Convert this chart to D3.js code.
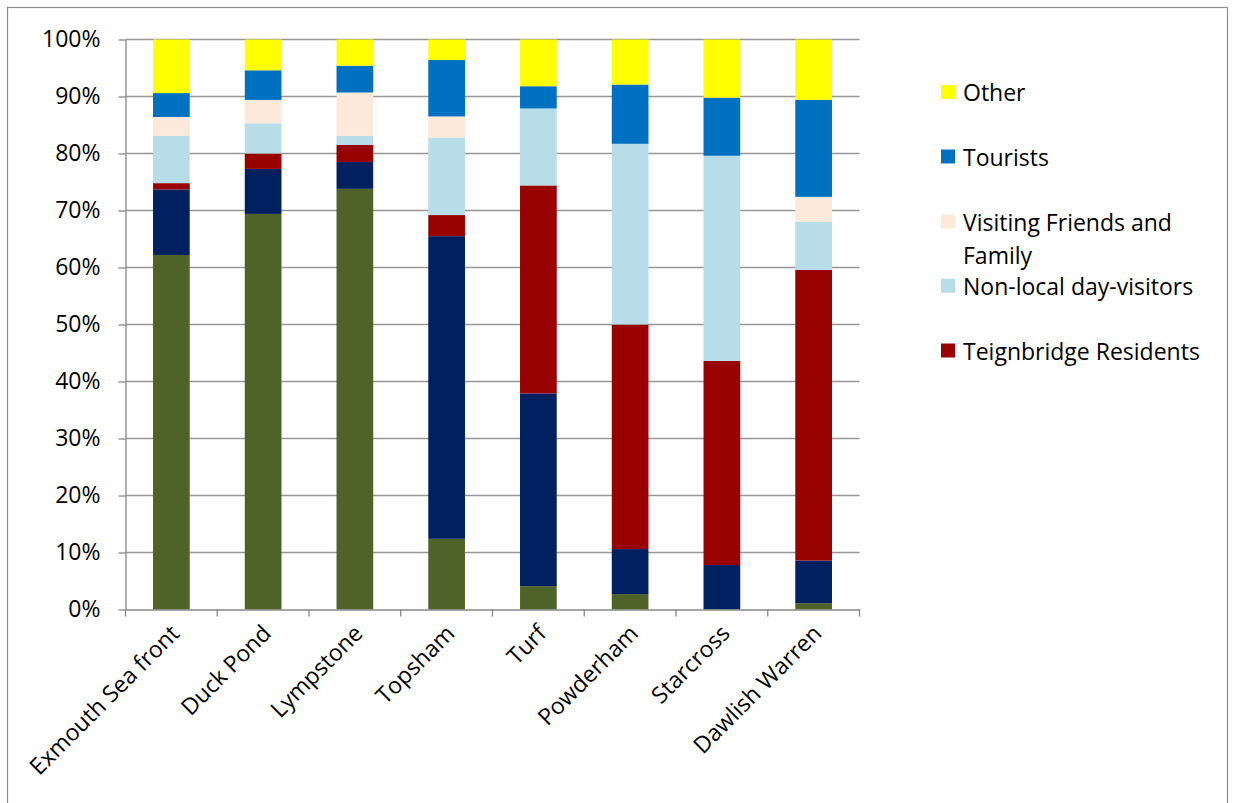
<!DOCTYPE html>
<html><head><meta charset="utf-8">
<script src="https://cdn.jsdelivr.net/npm/d3@7"></script>
<style>
body{margin:0;background:#fff}
text{font-family:"Open Sans",sans-serif;fill:#000}
</style>
</head><body>
<svg id="chart" width="1234" height="803"></svg>
<script>
const categories = ["Exmouth Sea front","Duck Pond","Lympstone","Topsham","Turf","Powderham","Starcross","Dawlish Warren"];
const seriesNames = ["East Devon Residents","Exeter Residents","Teignbridge Residents","Non-local day-visitors","Visiting Friends and Family","Tourists","Other"];
const eastDevon   = [62.2, 69.4, 73.8, 12.4,  4.1,  2.7,  0.0,  1.1];
const exeter      = [11.5,  7.9,  4.7, 53.1, 33.8,  7.9,  7.8,  7.5];
const teignbridge = [ 1.1,  2.7,  3.0,  3.7, 36.5, 39.4, 35.8, 51.0];
const nonLocal    = [ 8.3,  5.3,  1.6, 13.6, 13.5, 31.7, 36.0,  8.4];
const friends     = [ 3.3,  4.1,  7.6,  3.7,  0.0,  0.0,  0.0,  4.4];
const tourists    = [ 4.2,  5.2,  4.7,  9.9,  3.9, 10.4, 10.2, 17.0];
const other       = [ 9.4,  5.4,  4.6,  3.6,  8.2,  7.9, 10.2, 10.6];
const yTicks = [0, 0.1, 0.2, 0.3, 0.4, 0.5, 0.6, 0.7, 0.8, 0.9, 1.0];
const legendShown = ["Other","Tourists","Visiting Friends and Family","Non-local day-visitors","Teignbridge Residents"];
const legendLines = {"Visiting Friends and Family": ["Visiting Friends and", "Family"]};

const colors = {
  "East Devon Residents": "#4F6228",
  "Exeter Residents": "#002060",
  "Teignbridge Residents": "#990000",
  "Non-local day-visitors": "#B7DEE8",
  "Visiting Friends and Family": "#FDE9D9",
  "Tourists": "#0070C0",
  "Other": "#FFFF00"
};

const seriesArrays = [eastDevon, exeter, teignbridge, nonLocal, friends, tourists, other];
const table = categories.map((c, i) => {
  const row = {category: c};
  seriesNames.forEach((s, k) => row[s] = seriesArrays[k][i]);
  return row;
});

const svg = d3.select("#chart");
const FS = "23px";

// outer border
svg.append("rect").attr("x", 7.5).attr("y", 7.5).attr("width", 1220).attr("height", 802)
  .attr("fill", "none").attr("stroke", "#8c8c8c").attr("stroke-width", 1.2);

const x = d3.scaleBand().domain(categories).range([125.5, 859.5]).paddingInner(0.6).paddingOuter(0.3);
const y = d3.scaleLinear().domain([0, 1]).range([609.5, 39.5]);

// gridlines
svg.append("g").selectAll("line").data(yTicks.filter(d => d > 0)).join("line")
  .attr("x1", 125.5).attr("x2", 859.5)
  .attr("y1", d => y(d)).attr("y2", d => y(d))
  .attr("stroke", "#979797").attr("stroke-width", 1.6);

const stack = d3.stack().keys(seriesNames).offset(d3.stackOffsetExpand);
const layers = stack(table);

svg.append("g").selectAll("g").data(layers).join("g")
  .attr("fill", d => colors[d.key])
  .selectAll("rect").data(d => d).join("rect")
  .attr("x", d => x(d.data.category))
  .attr("width", x.bandwidth())
  .attr("y", d => y(d[1]))
  .attr("height", d => Math.max(0, y(d[0]) - y(d[1])));

// y axis
const yAxis = d3.axisLeft(y).tickValues(yTicks).tickFormat(d3.format(".0%")).tickSize(7).tickPadding(18).tickSizeOuter(0);
const gy = svg.append("g").attr("transform", "translate(125.5,0)").call(yAxis);
gy.select(".domain").attr("stroke", "#878787").attr("stroke-width", 1.3);
gy.selectAll(".tick line").attr("stroke", "#878787").attr("stroke-width", 1.3);
gy.selectAll("text").style("font-size", FS).style("font-family", "'Open Sans',sans-serif").attr("fill", "#000");

// x axis
const xAxis = d3.axisBottom(x).tickSize(0).tickSizeOuter(0).tickPadding(0);
const gx = svg.append("g").attr("transform", "translate(0,609.5)").call(xAxis);
gx.select(".domain").attr("stroke", "#878787").attr("stroke-width", 1.3);
gx.selectAll(".tick text")
  .style("font-size", FS).style("font-family", "'Open Sans',sans-serif").attr("fill", "#000")
  .attr("text-anchor", "end")
  .attr("dy", null).attr("y", null)
  .attr("transform", "translate(5,21) rotate(-45)")
  .attr("dominant-baseline", "middle");
const boundaries = d3.range(categories.length + 1).map(i => x.range()[0] + i * x.step());
gx.append("g").selectAll("line").data(boundaries).join("line")
  .attr("x1", d => d).attr("x2", d => d).attr("y1", 0).attr("y2", 7)
  .attr("stroke", "#878787").attr("stroke-width", 1.3);

// legend
const legendCenters = [92, 156.5, 221.5, 285.7, 350.5];
const lg = svg.append("g");
legendShown.forEach((name, i) => {
  const cy = legendCenters[i];
  lg.append("rect").attr("x", 941).attr("y", cy - 7).attr("width", 14).attr("height", 14).attr("fill", colors[name]);
  const lines = legendLines[name] || [name];
  const t = lg.append("text").attr("x", 963).attr("y", cy).attr("dominant-baseline", "central")
    .style("font-size", FS);
  lines.forEach((ln, j) => t.append("tspan").attr("x", 963).attr("dy", j === 0 ? 0 : 33).text(ln));
});
</script>
</body></html>
